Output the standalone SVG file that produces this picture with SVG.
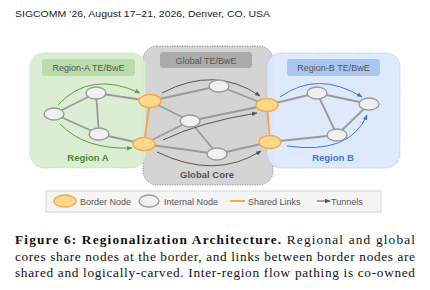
<svg xmlns="http://www.w3.org/2000/svg" width="430" height="290" viewBox="0 0 430 290">
<defs>
<style>
.link{stroke:#9a9a9a;stroke-width:1.8;fill:none}
.shared{stroke:#f5a04a;stroke-width:1.8;fill:none}
.inode{fill:#f0f0f0;stroke:#9a9a9a;stroke-width:1.4}
.bnode{fill:#ffd98a;stroke:#f5a94f;stroke-width:1.4}
.tg{stroke:#5aa040;stroke-width:1;fill:none;marker-end:url(#ag)}
.tk{stroke:#555;stroke-width:1;fill:none;marker-end:url(#ak)}
.tb{stroke:#3a7ae0;stroke-width:1;fill:none;marker-end:url(#ab)}
.sans{font-family:"Liberation Sans",Arial,sans-serif}
.lbl{font-family:"Liberation Sans",Arial,sans-serif;font-size:9px;fill:#555;text-anchor:middle}
.leg{font-family:"Liberation Sans",Arial,sans-serif;font-size:9px;fill:#555}
.cap{font-family:"Liberation Serif","Times New Roman",serif;font-size:13.3px;fill:#111}
</style>
<marker id="ag" viewBox="0 0 10 10" refX="9" refY="5" markerWidth="5.5" markerHeight="5.5" orient="auto"><path d="M0,1 L10,5 L0,9 z" fill="#5aa040"/></marker>
<marker id="ak" viewBox="0 0 10 10" refX="9" refY="5" markerWidth="5.5" markerHeight="5.5" orient="auto"><path d="M0,1 L10,5 L0,9 z" fill="#555"/></marker>
<marker id="ab" viewBox="0 0 10 10" refX="9" refY="5" markerWidth="5.5" markerHeight="5.5" orient="auto"><path d="M0,1 L10,5 L0,9 z" fill="#3a7ae0"/></marker>
</defs>
<rect width="430" height="290" fill="#fff"/>
<text x="15" y="17" class="sans" font-size="9" fill="#222" textLength="255" lengthAdjust="spacingAndGlyphs">SIGCOMM ’26, August 17–21, 2026, Denver, CO, USA</text>

<g id="global-core">
<rect x="143" y="46" width="130" height="139" rx="14" fill="#d4d4d4" stroke="#666" stroke-width="0.8" stroke-dasharray="1,1.5"/>
<rect x="160" y="52" width="92" height="16" rx="3" fill="#ababab"/>
<text x="206" y="63.5" class="lbl">Global TE/BwE</text>
<text x="207" y="177.5" class="sans" font-size="9.5" font-weight="bold" fill="#555" text-anchor="middle">Global Core</text>
</g>
<g id="region-a">
<rect x="30" y="53" width="116" height="115" rx="14" fill="#d9ecd0" fill-opacity="0.95" stroke="#a8d098" stroke-width="0.8" stroke-dasharray="1,1.5"/>
<rect x="42" y="59" width="93" height="17" rx="3" fill="#b9dcaa"/>
<text x="88.5" y="70.5" class="lbl">Region-A TE/BwE</text>
<text x="88" y="161" class="sans" font-size="9.5" font-weight="bold" fill="#4a8a2e" text-anchor="middle">Region A</text>
</g>
<g id="region-b">
<rect x="267" y="53" width="133" height="115" rx="14" fill="#dce8fc" fill-opacity="0.95" stroke="#8ab0f0" stroke-width="0.8" stroke-dasharray="1,1.5"/>
<rect x="287" y="59" width="93" height="17" rx="3" fill="#a9c5f2"/>
<text x="333.5" y="70.5" class="lbl">Region-B TE/BwE</text>
<text x="333" y="161" class="sans" font-size="9.5" font-weight="bold" fill="#3a78d8" text-anchor="middle">Region B</text>
</g>

<g id="connectors">
<line class="link" x1="54" y1="114" x2="96" y2="93"/>
<line class="link" x1="54" y1="114" x2="99" y2="134"/>
<line class="link" x1="96" y1="93" x2="99" y2="134"/>
<line class="link" x1="96" y1="93" x2="150" y2="101"/>
<line class="link" x1="99" y1="134" x2="144" y2="144"/>
<line class="link" x1="150" y1="101" x2="219" y2="86"/>
<line class="link" x1="150" y1="101" x2="190" y2="121"/>
<line class="link" x1="144" y1="144" x2="190" y2="121"/>
<line class="link" x1="144" y1="144" x2="217" y2="154"/>
<line class="link" x1="190" y1="121" x2="267" y2="105"/>
<line class="link" x1="190" y1="121" x2="217" y2="154"/>
<line class="link" x1="219" y1="86" x2="267" y2="105"/>
<line class="link" x1="217" y1="154" x2="270" y2="142"/>
<line class="link" x1="267" y1="105" x2="317" y2="93"/>
<line class="link" x1="270" y1="142" x2="337" y2="135"/>
<line class="link" x1="317" y1="93" x2="369" y2="104"/>
<line class="link" x1="317" y1="93" x2="337" y2="135"/>
<line class="link" x1="337" y1="135" x2="369" y2="104"/>
<line class="shared" x1="150" y1="101" x2="144" y2="144"/>
<line class="shared" x1="267" y1="105" x2="270" y2="142"/>
<path class="tg" d="M58,105 Q90,70 140,93"/>
<path class="tg" d="M60,124 Q85,150 132,148"/>
<path class="tk" d="M162,93 Q215,65 260,96"/>
<path class="tk" d="M163,140 Q200,122 257,113"/>
<path class="tk" d="M157,152 Q215,180 261,151"/>
<path class="tb" d="M280,97 Q318,70 362,97"/>
<path class="tb" d="M287,146 Q350,155 367,115"/>
</g>

<g id="node-a1"><ellipse class="inode" cx="54" cy="114" rx="10" ry="6"/></g>
<g id="node-a2"><ellipse class="inode" cx="96" cy="93" rx="10" ry="6"/></g>
<g id="node-a3"><ellipse class="inode" cx="99" cy="134" rx="10" ry="6"/></g>
<g id="node-g1"><ellipse class="inode" cx="219" cy="86" rx="10" ry="6"/></g>
<g id="node-g2"><ellipse class="inode" cx="190" cy="121" rx="10" ry="6"/></g>
<g id="node-g3"><ellipse class="inode" cx="217" cy="154" rx="10" ry="6"/></g>
<g id="node-b1"><ellipse class="inode" cx="317" cy="93" rx="10" ry="6"/></g>
<g id="node-b2"><ellipse class="inode" cx="369" cy="104" rx="10" ry="6"/></g>
<g id="node-b3"><ellipse class="inode" cx="337" cy="135" rx="10" ry="6"/></g>
<g id="border-a1"><ellipse class="bnode" cx="150" cy="101" rx="11" ry="6.5"/></g>
<g id="border-a2"><ellipse class="bnode" cx="144" cy="144" rx="11" ry="6.5"/></g>
<g id="border-b1"><ellipse class="bnode" cx="267" cy="105" rx="11" ry="6.5"/></g>
<g id="border-b2"><ellipse class="bnode" cx="270" cy="142" rx="11" ry="6.5"/></g>

<g id="legend">
<rect x="46" y="191" width="335" height="21" fill="#f5f5f5" stroke="#ccc" stroke-width="0.8"/>
<ellipse class="bnode" cx="65" cy="201" rx="11" ry="6"/>
<text x="80" y="204.5" class="leg">Border Node</text>
<ellipse class="inode" cx="149" cy="201" rx="10" ry="6"/>
<text x="164" y="204.5" class="leg">Internal Node</text>
<line class="shared" x1="230" y1="201" x2="245" y2="201"/>
<text x="248" y="204.5" class="leg">Shared Links</text>
<line x1="317" y1="201" x2="330" y2="201" stroke="#555" stroke-width="1" marker-end="url(#ak)"/>
<text x="331" y="204.5" class="leg">Tunnels</text>
</g>

<text x="15" y="244" class="cap" textLength="400" lengthAdjust="spacing"><tspan font-weight="bold">Figure 6: Regionalization Architecture.</tspan> Regional and global</text>
<text x="15" y="261" class="cap" textLength="400" lengthAdjust="spacing">cores share nodes at the border, and links between border nodes are</text>
<text x="15" y="277" class="cap" textLength="400" lengthAdjust="spacing">shared and logically-carved. Inter-region flow pathing is co-owned</text>
</svg>
